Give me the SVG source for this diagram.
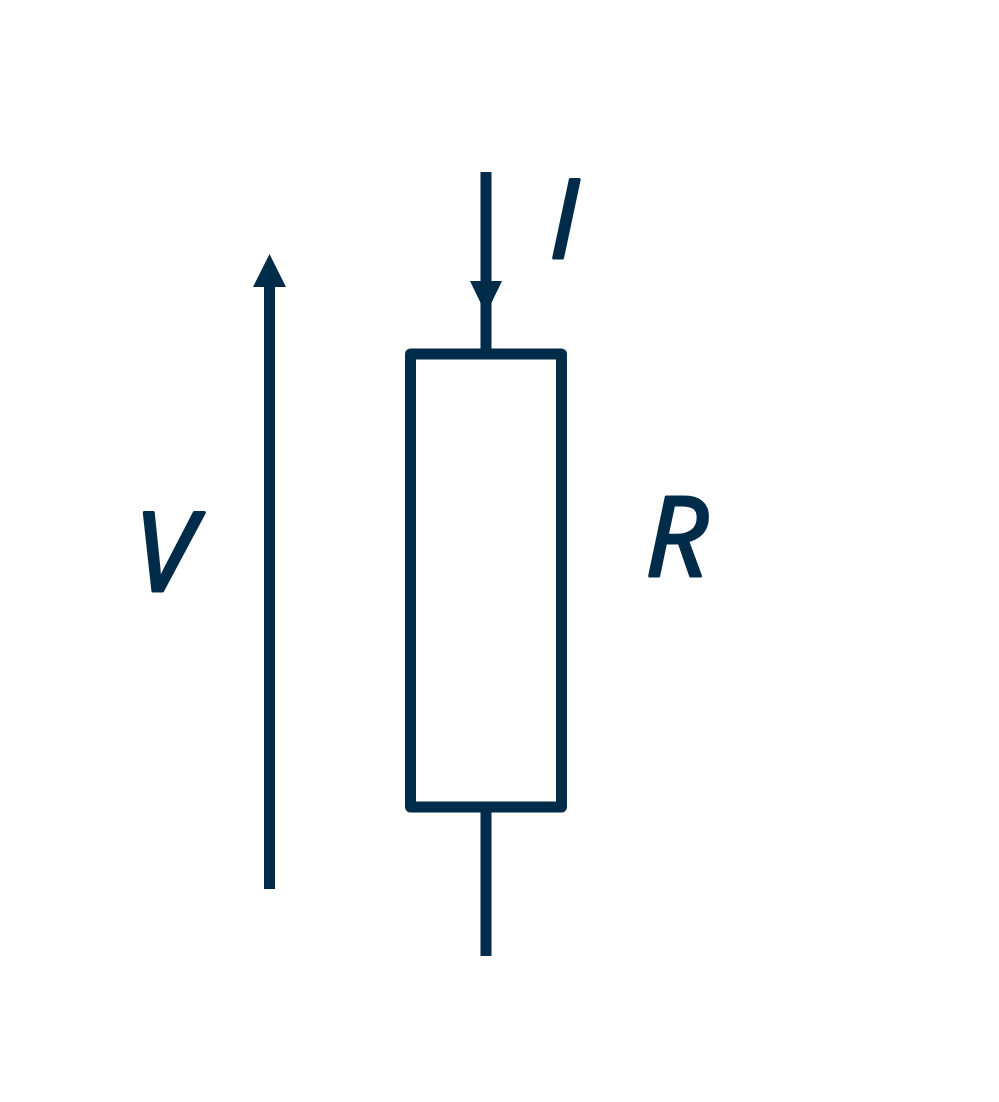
<svg xmlns="http://www.w3.org/2000/svg" width="999" height="1102" viewBox="0 0 999 1102">
<style>
.l{stroke:#002b49;stroke-width:11;fill:none}
.a{fill:#002b49}
.t{fill:#002b49;stroke:#002b49;stroke-width:3;stroke-linejoin:round;font-family:"Open Sans","Noto Sans",sans-serif;font-style:italic;font-size:110px}
</style>
<rect width="999" height="1102" fill="#fff"/>
<g id="connectors">
<path class="l" d="M269.500 285V889"/>
<polygon class="a" points="269.500,254 286,287 253,287"/>
<path class="l" d="M486 172V349"/>
<polygon class="a" points="486,314 470,281 502,281"/>
<path class="l" d="M486 811V956"/>
</g>
<g id="resistor"><rect class="l" x="410.500" y="354" width="151" height="453" style="stroke-linejoin:round"/></g>
<g id="label-i"><text class="t" x="549" y="258">I</text></g>
<g id="label-v"><text class="t" x="134" y="590.500">V</text></g>
<g id="label-r"><text class="t" x="645" y="575.500">R</text></g>
</svg>
